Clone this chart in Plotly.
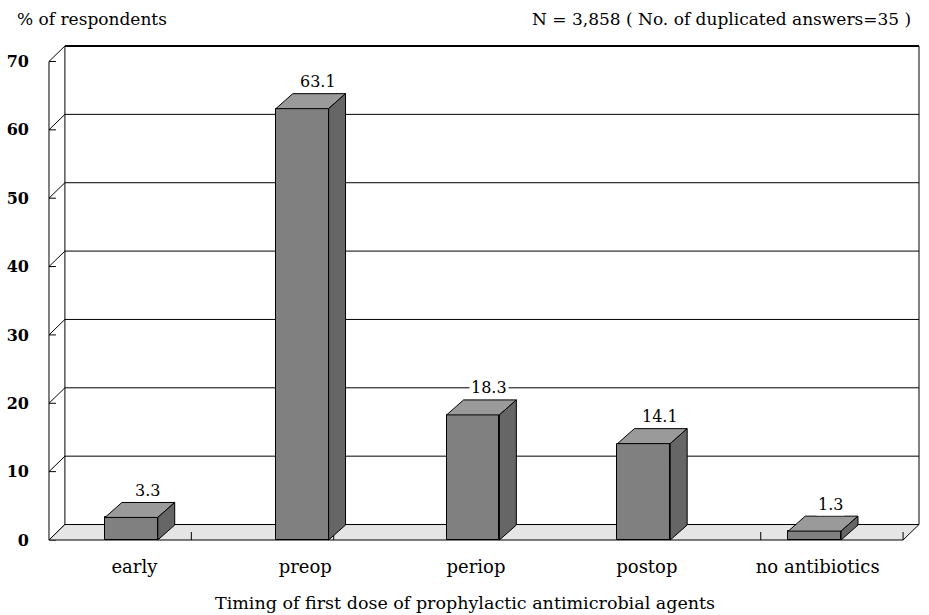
import plotly.graph_objects as go

# ---------------- data ----------------
categories = ["early", "preop", "periop", "postop", "no antibiotics"]
values = [3.3, 63.1, 18.3, 14.1, 1.3]
y_ticks = [0, 10, 20, 30, 40, 50, 60, 70]
y_title = "% of respondents"
x_title = "Timing of first dose of prophylactic antimicrobial agents"
note = "N = 3,858 ( No. of duplicated answers=35 )"

# ---------------- geometry (pixels) ----------------
W, H = 929, 615
FRONT_LEFT, FRONT_RIGHT = 45, 903
FRONT_ZERO, FRONT_TOP = 540, 61
PAD = 3
DEPTH_X, DEPTH_Y = 16, 15.5
BAR_DX, BAR_DY = 17, 15
BAR_W, BAR_SHIFT = 53, -3
FONT = "DejaVu Serif"

n = len(categories)
ymax = y_ticks[-1]
ppy = (FRONT_ZERO - FRONT_TOP) / ymax
ppx = (FRONT_RIGHT - FRONT_LEFT) / n

plot_l = FRONT_LEFT - PAD
plot_r = FRONT_RIGHT + DEPTH_X + PAD
plot_t = FRONT_TOP - DEPTH_Y - PAD
plot_b = FRONT_ZERO + PAD


def ux(px):
    return px / ppx


def uy(px):
    return px / ppy


x0 = -0.5
x1 = x0 + n
xr = [x0 - ux(PAD), x0 + ux(plot_r - FRONT_LEFT)]
yr = [-uy(PAD), uy(FRONT_ZERO - plot_t)]
dx, dy = ux(DEPTH_X), uy(DEPTH_Y)


def px_to_paper_x(px):
    return (px - plot_l) / (plot_r - plot_l)


def px_to_paper_y(py):
    return (plot_b - py) / (plot_b - plot_t)


shapes = []
line_k = dict(color="black", width=1)

# back wall
shapes.append(dict(type="rect", xref="x", yref="y", x0=x0 + dx, x1=x1 + dx,
                   y0=dy, y1=ymax + dy, fillcolor="white", line=line_k, layer="below"))
# gridlines on back wall
for v in y_ticks[1:-1]:
    shapes.append(dict(type="line", xref="x", yref="y", x0=x0 + dx, x1=x1 + dx,
                       y0=v + dy, y1=v + dy, line=line_k, layer="below"))
# thick top edge
shapes.append(dict(type="line", xref="x", yref="y", x0=x0 + dx, x1=x1 + dx,
                   y0=ymax + dy, y1=ymax + dy, line=dict(color="black", width=2.2), layer="below"))
# left wall: slanted ticks
for v in y_ticks:
    shapes.append(dict(type="line", xref="x", yref="y", x0=x0, x1=x0 + dx,
                       y0=v, y1=v + dy, line=line_k, layer="below"))
    shapes.append(dict(type="line", xref="x", yref="y", x0=x0, x1=x0 + ux(7),
                       y0=v, y1=v, line=line_k, layer="below"))
# front value axis
shapes.append(dict(type="line", xref="x", yref="y", x0=x0, x1=x0, y0=0, y1=ymax,
                   line=line_k, layer="below"))
# floor
shapes.append(dict(type="path", xref="x", yref="y",
                   path=f"M {x0},0 L {x1},0 L {x1 + dx},{dy} L {x0 + dx},{dy} Z",
                   fillcolor="#e5e5e5", line=line_k, layer="below"))
# floor ticks
for k in range(1, 7):
    xt = x0 + n * k / 6
    shapes.append(dict(type="line", xref="x", yref="y", x0=xt, x1=xt, y0=0, y1=uy(8),
                       line=line_k, layer="below"))

# bar 3D faces
bw = ux(BAR_W)
shift = ux(BAR_SHIFT)
bdx, bdy = ux(BAR_DX), uy(BAR_DY)
for i, v in enumerate(values):
    xl = i + shift - bw / 2
    xrgt = i + shift + bw / 2
    shapes.append(dict(type="path", xref="x", yref="y",
                       path=f"M {xl},{v} L {xrgt},{v} L {xrgt + bdx},{v + bdy} L {xl + bdx},{v + bdy} Z",
                       fillcolor="#9a9a9a", line=line_k, layer="above"))
    shapes.append(dict(type="path", xref="x", yref="y",
                       path=f"M {xrgt},0 L {xrgt},{v} L {xrgt + bdx},{v + bdy} L {xrgt + bdx},{bdy} Z",
                       fillcolor="#666666", line=line_k, layer="above"))

fig = go.Figure()
fig.add_trace(go.Bar(
    x=list(range(n)), y=values, width=bw, offset=shift - bw / 2,
    marker=dict(color="#808080", line=dict(color="black", width=1)),
    hoverinfo="skip", showlegend=False,
))

annotations = []
for i, v in enumerate(values):
    annotations.append(dict(x=i + shift + ux(16), y=v, xref="x", yref="y", text=f"{v:.1f}",
                            showarrow=False, yshift=27, yanchor="middle",
                            font=dict(family=FONT, size=16, color="black"),
                            bgcolor="white", borderpad=1))
annotations.append(dict(x=px_to_paper_x(11), y=px_to_paper_y(18), xref="paper", yref="paper",
                        text=y_title, showarrow=False, xanchor="left", yanchor="middle",
                        font=dict(family=FONT, size=17, color="black")))
annotations.append(dict(x=px_to_paper_x(913), y=px_to_paper_y(18), xref="paper", yref="paper",
                        text=note, showarrow=False, xanchor="right", yanchor="middle",
                        font=dict(family=FONT, size=17, color="black")))
annotations.append(dict(x=px_to_paper_x(463), y=px_to_paper_y(603), xref="paper", yref="paper",
                        text=x_title, showarrow=False, xanchor="center", yanchor="middle",
                        font=dict(family=FONT, size=17.5, color="black")))

fig.update_layout(
    width=W, height=H,
    margin=dict(l=plot_l, r=W - plot_r, t=plot_t, b=H - plot_b, pad=0),
    paper_bgcolor="white", plot_bgcolor="rgba(0,0,0,0)",
    shapes=shapes, annotations=annotations, bargap=0,
    xaxis=dict(range=xr, tickvals=list(range(n)), ticktext=categories,
               showgrid=False, zeroline=False, showline=False, ticks="",
               ticklabelstandoff=11,
               tickfont=dict(family=FONT, size=18, color="black"), fixedrange=True),
    yaxis=dict(range=yr, tickvals=y_ticks, ticktext=[str(t) for t in y_ticks],
               showgrid=False, zeroline=False, showline=False, ticks="",
               ticklabelstandoff=16,
               tickfont=dict(family=FONT, size=16, color="black", weight="bold"), fixedrange=True),
)

fig.write_html("out.html", config={"displayModeBar": False},
               post_script="document.body.style.margin='0px';")
